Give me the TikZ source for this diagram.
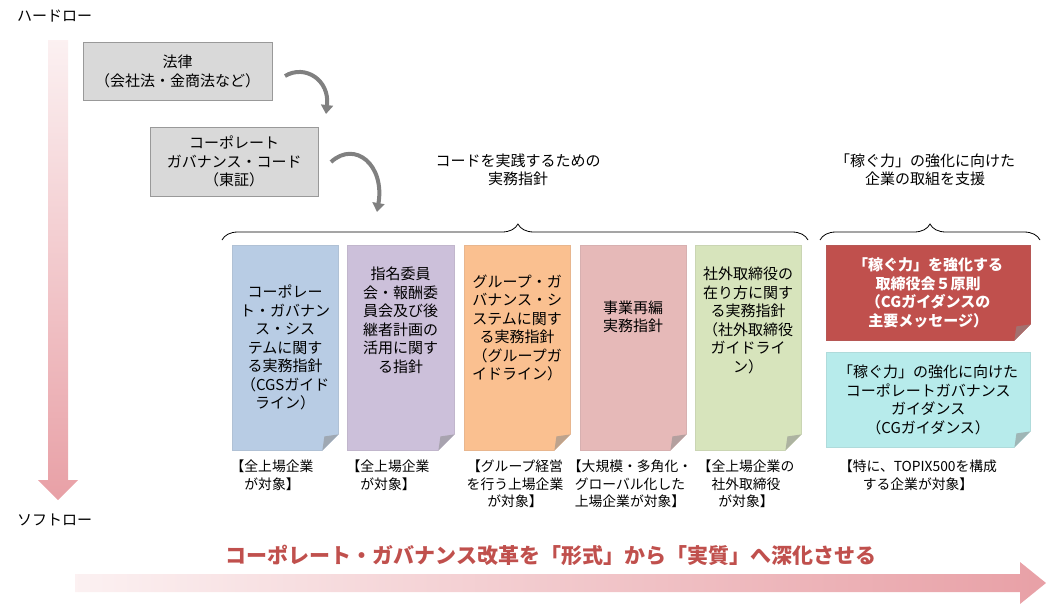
\documentclass[tikz,border=0pt]{standalone}
\usepackage{fontspec}
\setmainfont{Noto Sans CJK JP}
\usetikzlibrary{arrows.meta,decorations.pathreplacing,calc}
\definecolor{boxgray}{HTML}{D9D9D9}
\definecolor{cblue}{HTML}{B8CCE4}
\definecolor{cpurple}{HTML}{CCC0DA}
\definecolor{corange}{HTML}{FAC090}
\definecolor{cpink}{HTML}{E6B9B8}
\definecolor{cgreen}{HTML}{D7E4BC}
\definecolor{cred}{HTML}{C0504D}
\definecolor{ccyan}{HTML}{B7EBEB}
\definecolor{arrowpink}{HTML}{E8A0A6}
\tikzset{
  txt/.style={font=\fontsize{15}{18.5}\selectfont, align=center, inner sep=0pt},
  lbl/.style={txt, anchor=north, font=\fontsize{13.8}{17.5}\selectfont},
  graybox/.style={draw=gray!80, fill=boxgray, txt, anchor=north west},
  note/.style={txt, anchor=north west, draw=#1!85!gray, fill=#1, line width=0.4pt},
  curv/.style={draw=gray, line width=4pt, -{Triangle[length=9pt,width=12pt]}},
}
\newcommand{\fold}[1]{%
  \fill[white] ($(#1.south east)+(-16,0.5)$) -- ($(#1.south east)+(0.5,0.5)$) -- ($(#1.south east)+(0.5,-16)$) -- cycle;
  \fill[black!45,opacity=0.55] ($(#1.south east)+(-16,0)$) -- ($(#1.south east)+(0,-16)$) -- ($(#1.south east)+(-14,-14)$) -- cycle;}
\begin{document}
\begin{tikzpicture}[x=1pt,y=-1pt]
\useasboundingbox (0,0) rectangle (1046,606);
% vertical arrow
\shade[top color=arrowpink!15, bottom color=arrowpink] (48,40) -- (68,40) -- (68,480) -- (78,480) -- (58,500) -- (38,480) -- (48,480) -- cycle;
\node[txt, anchor=west] (hard) at (17,16) {ハードロー};
\node[txt, anchor=west] (soft) at (17,520) {ソフトロー};
% gray boxes
\node[graybox, minimum width=189, minimum height=58] (law) at (83,42) {法律\\（会社法・金商法など）};
\node[graybox, minimum width=168, minimum height=69] (cgc) at (150,127) {コーポレート\\ガバナンス・コード\\（東証）};
\coordinate (a1s) at (285,76); \coordinate (a1e) at (326,114);
\coordinate (a2s) at (331,162); \coordinate (a2e) at (377,212);
\draw[curv] (a1s) .. controls (305,64) and (330,80) .. (a1e);
\draw[curv] (a2s) .. controls (355,140) and (385,165) .. (a2e);
% headings and braces
\node[txt] (h1) at (518,170) {コードを実践するための\\実務指針};
\node[txt] (h2) at (925,170) {「稼ぐ力」の強化に向けた\\企業の取組を支援};
\coordinate (b1l) at (222,240); \coordinate (b1r) at (808,240);
\coordinate (b2l) at (820,240); \coordinate (b2r) at (1040,240);
\draw[decorate, decoration={brace, amplitude=16pt, aspect=0.505}, line width=0.8pt] (b1l) -- (b1r);
\draw[decorate, decoration={brace, amplitude=16pt}, line width=0.8pt] (b2l) -- (b2r);
% notes
\node[note=cblue, minimum width=106, minimum height=205] (n1) at (232,245) {コーポレー\\ト・ガバナン\\ス・シス\\テムに関す\\る実務指針\\（CGSガイド\\ライン）};
\node[note=cpurple, minimum width=107, minimum height=205] (n2) at (347,245) {指名委員\\会・報酬委\\員会及び後\\継者計画の\\活用に関す\\る指針\\[2.5em]};
\node[note=corange, minimum width=106, minimum height=205] (n3) at (464,245) {グループ・ガ\\バナンス・シ\\ステムに関す\\る実務指針\\（グループガ\\イドライン）\\[1.5em]};
\node[note=cpink, minimum width=106, minimum height=205] (n4) at (580,245) {事業再編\\実務指針\\[3em]};
\node[note=cgreen, minimum width=106, minimum height=205] (n5) at (695,245) {社外取締役の\\在り方に関す\\る実務指針\\（社外取締役\\ガイドライ\\ン）\\[2.5em]};
\node[note=cred, minimum width=204, minimum height=95, text=white, font=\fontsize{15}{18.5}\selectfont\bfseries] (n6) at (826,245) {「稼ぐ力」を強化する\\取締役会５原則\\（CGガイダンスの\\主要メッセージ）};
\node[note=ccyan, minimum width=204, minimum height=95] (n7) at (826,352) {「稼ぐ力」の強化に向けた\\コーポレートガバナンス\\ガイダンス\\（CGガイダンス）};
\foreach \n in {n1,n2,n3,n4,n5,n6,n7} {\fold{\n}}
% labels below
\node[lbl] (l1) at (272,460) {【全上場企業\\が対象】};
\node[lbl] (l2) at (388,460) {【全上場企業\\が対象】};
\node[lbl] (l3) at (515,460) {【グループ経営\\を行う上場企業\\が対象】};
\node[lbl] (l4) at (630,460) {【大規模・多角化・\\グローバル化した\\上場企業が対象】};
\node[lbl] (l5) at (746,460) {【全上場企業の\\社外取締役\\が対象】};
\node[lbl] (l6) at (918,460) {【特に、TOPIX500を構成\\する企業が対象】};
% title
\node[txt, text=cred, font=\fontsize{21}{24}\selectfont\bfseries] (title) at (551,555) {コーポレート・ガバナンス改革を「形式」から「実質」へ深化させる};
% horizontal arrow
\shade[left color=arrowpink!15, right color=arrowpink] (75,574) -- (1020,574) -- (1020,562) -- (1046,583) -- (1020,604) -- (1020,592) -- (75,592) -- cycle;
\end{tikzpicture}
\end{document}
